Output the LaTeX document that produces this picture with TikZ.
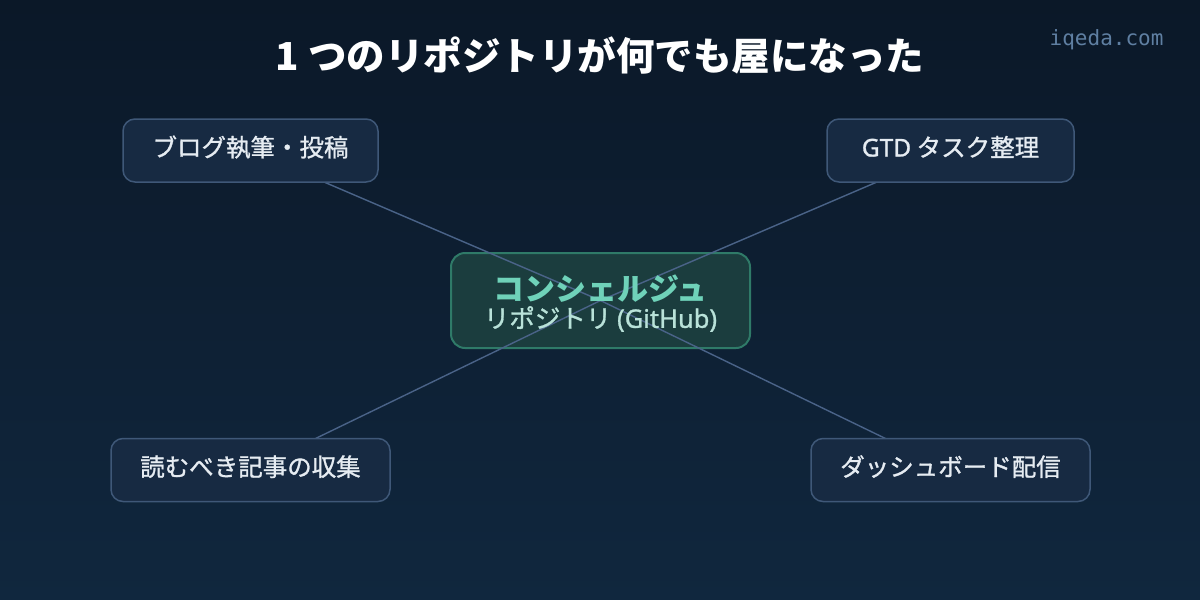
\documentclass[tikz,border=0pt]{standalone}
\usepackage{fontspec}
\setmainfont{Noto Sans CJK JP}
\newfontfamily\jp{Noto Sans CJK JP}
\newfontfamily\jpm[FakeBold=1.1]{Noto Sans CJK JP}
\newfontfamily\latm[FakeBold=1.1]{Noto Sans}
\newfontfamily\mono{DejaVu Sans Mono}
\definecolor{bgtop}{HTML}{0B1828}
\definecolor{bgbot}{HTML}{10273E}
\definecolor{boxfill}{HTML}{172A42}
\definecolor{boxline}{HTML}{3F5878}
\definecolor{cfill}{HTML}{1B3D3E}
\definecolor{cline}{HTML}{2F7A68}
\definecolor{ctitle}{HTML}{6FD2B9}
\definecolor{csub}{HTML}{B9E2D9}
\definecolor{boxtext}{HTML}{E6ECF2}
\definecolor{edgecol}{HTML}{4A6388}
\definecolor{wm}{HTML}{5F7FA2}
\pgfdeclarelayer{back}
\pgfdeclarelayer{mid}
\pgfdeclarelayer{edges}
\pgfsetlayers{back,mid,edges,main}
\tikzset{
  topic/.style={draw=boxline, line width=1.5pt, fill=boxfill, rounded corners=12pt,
    minimum height=63pt, inner sep=0pt, text=boxtext, text height=17pt, text depth=5pt,
    font=\jpm\fontsize{24.5}{28}\selectfont},
  hub/.style={draw=cline, line width=2pt, fill=cfill, rounded corners=14pt,
    minimum width=299pt, minimum height=95pt, inner sep=0pt},
  edge/.style={draw=edgecol, line width=1.4pt}
}
\begin{document}
\begin{tikzpicture}[x=1pt,y=-1pt]
\begin{pgfonlayer}{back}
\shade[top color=bgtop,bottom color=bgbot] (0,0) rectangle (1200,600);
\end{pgfonlayer}
\useasboundingbox (0,0) rectangle (1200,600);
\node[text=white, font=\jp\bfseries\fontsize{38.5}{46}\selectfont] (title) at (600,56) {1 つのリポジトリが何でも屋になった};
\node[text=wm, font=\mono\fontsize{21}{24}\selectfont, anchor=east] (wm) at (1167,40) {iqeda.com};
\begin{pgfonlayer}{mid}
\node[hub] (c) at (600.5,300.5) {};
\end{pgfonlayer}
\node[text=ctitle, font=\jp\bfseries\fontsize{31}{36}\selectfont] (ct) at (600.5,289) {コンシェルジュ};
\node[text=csub, font=\jpm\fontsize{25.5}{30}\selectfont] (cs) at (600.5,319) {リポジトリ {\latm(GitHub)}};
\node[topic, minimum width=255pt] (tl) at (250.5,150.5) {ブログ執筆・投稿};
\node[topic, minimum width=247pt] (tr) at (950.5,150.5) {{\latm GTD} タスク整理};
\node[topic, minimum width=279pt] (bl) at (250.5,470) {読むべき記事の収集};
\node[topic, minimum width=279pt] (br) at (950.5,470) {ダッシュボード配信};
\begin{pgfonlayer}{edges}
\draw[edge] (c.center) -- (tl.center);
\draw[edge] (c.center) -- (tr.center);
\draw[edge] (c.center) -- (bl.center);
\draw[edge] (c.center) -- (br.center);
\end{pgfonlayer}
\end{tikzpicture}
\end{document}
